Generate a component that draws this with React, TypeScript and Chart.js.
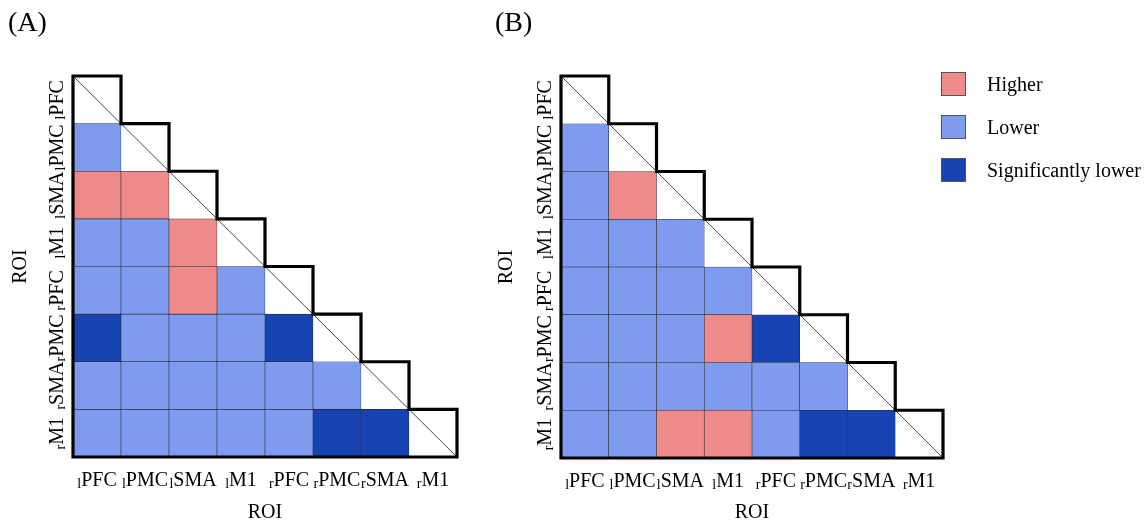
import React, { useEffect, useRef } from 'react';
import { Chart, registerables } from 'chart.js';

Chart.register(...registerables);

// ---------- data ----------
const roiSides = ['l', 'l', 'l', 'l', 'r', 'r', 'r', 'r'];
const roiNames = ['PFC', 'PMC', 'SMA', 'M1', 'PFC', 'PMC', 'SMA', 'M1'];
const roiLabels = roiSides.map((s, i) => s + roiNames[i]);

const categoryCodes = ['H', 'L', 'S'];
const categoryNames = ['Higher', 'Lower', 'Significantly lower'];
const categoryColors = ['#EE8A8A', '#7F9BF0', '#1744B2'];

// lower triangle: row r lists the cells of columns 0..r-1
const panelACells: string[][] = [
  [],
  ['L'],
  ['H', 'H'],
  ['L', 'L', 'H'],
  ['L', 'L', 'H', 'L'],
  ['S', 'L', 'L', 'L', 'S'],
  ['L', 'L', 'L', 'L', 'L', 'L'],
  ['L', 'L', 'L', 'L', 'L', 'S', 'S'],
];

const panelBCells: string[][] = [
  [],
  ['L'],
  ['L', 'H'],
  ['L', 'L', 'L'],
  ['L', 'L', 'L', 'L'],
  ['L', 'L', 'L', 'H', 'S'],
  ['L', 'L', 'L', 'L', 'L', 'L'],
  ['L', 'L', 'H', 'H', 'L', 'S', 'S'],
];

const axisTitle = 'ROI';

// ---------- styling ----------
const FONT = '"Liberation Serif", "Times New Roman", serif';

type Geo = {
  left: number;
  width: number;
  padRight: number;
  xTitlePadTop: number;
  yTitlePadTop: number;
  yTitlePadBottom: number;
  letterX: number;
};

const geoA: Geo = { left: 0, width: 490, padRight: 33, xTitlePadTop: 44, yTitlePadTop: 9, yTitlePadBottom: 40, letterX: 8 };
const geoB: Geo = { left: 490, width: 658, padRight: 205, xTitlePadTop: 43, yTitlePadTop: 5, yTitlePadBottom: 42, letterX: 5 };

function drawLabel(ctx: CanvasRenderingContext2D, sub: string, main: string, cx: number, baseY: number) {
  ctx.font = `14px ${FONT}`;
  const ws = ctx.measureText(sub).width;
  ctx.font = `20px ${FONT}`;
  const wm = ctx.measureText(main).width;
  const start = cx - (ws + wm) / 2;
  ctx.textAlign = 'left';
  ctx.textBaseline = 'alphabetic';
  ctx.font = `14px ${FONT}`;
  ctx.fillText(sub, start, baseY + 2);
  ctx.font = `20px ${FONT}`;
  ctx.fillText(main, start + ws, baseY);
}

function makeOverlay(letter: string, showLegend: boolean, letterX: number) {
  return {
    id: 'matrixOverlay',
    afterDatasetsDraw(chart: any) {
      const ctx: CanvasRenderingContext2D = chart.ctx;
      const xs = chart.scales.x;
      const ys = chart.scales.y;
      const n = roiLabels.length;
      const xE = (i: number) => xs.getPixelForValue(i - 0.5);
      const yE = (j: number) => ys.getPixelForValue(j);
      ctx.save();
      // diagonal
      ctx.beginPath();
      ctx.moveTo(xE(0), yE(0));
      ctx.lineTo(xE(n), yE(n));
      ctx.strokeStyle = '#333';
      ctx.lineWidth = 0.9;
      ctx.stroke();
      // staircase outline
      ctx.beginPath();
      ctx.moveTo(xE(0), yE(n));
      ctx.lineTo(xE(0), yE(0));
      for (let i = 0; i < n; i++) {
        ctx.lineTo(xE(i + 1), yE(i));
        ctx.lineTo(xE(i + 1), yE(i + 1));
      }
      ctx.closePath();
      ctx.strokeStyle = '#000';
      ctx.lineWidth = 3.2;
      ctx.lineJoin = 'miter';
      ctx.stroke();
      ctx.restore();
    },
    afterDraw(chart: any) {
      const ctx: CanvasRenderingContext2D = chart.ctx;
      const xs = chart.scales.x;
      const ys = chart.scales.y;
      const area = chart.chartArea;
      ctx.save();
      ctx.fillStyle = '#000';
      // x tick labels
      roiLabels.forEach((_, i) => {
        drawLabel(ctx, roiSides[i], roiNames[i], xs.getPixelForValue(i), area.bottom + 29);
      });
      // y tick labels (rotated)
      roiLabels.forEach((_, i) => {
        const cy = ys.getPixelForValue(i + 0.5);
        ctx.save();
        ctx.translate(area.left - 10, cy);
        ctx.rotate(-Math.PI / 2);
        drawLabel(ctx, roiSides[i], roiNames[i], 0, 0);
        ctx.restore();
      });
      // panel letter
      ctx.font = `28px ${FONT}`;
      ctx.textAlign = 'left';
      ctx.textBaseline = 'alphabetic';
      ctx.fillText(letter, letterX, 31);
      // legend
      if (showLegend) {
        const bx = area.right - 2;
        categoryNames.forEach((name, k) => {
          const by = 72 + k * 43;
          ctx.fillStyle = categoryColors[k];
          ctx.fillRect(bx, by, 25, 24);
          ctx.strokeStyle = '#555';
          ctx.lineWidth = 1;
          ctx.strokeRect(bx + 0.5, by + 0.5, 24, 23);
          ctx.fillStyle = '#000';
          ctx.font = `20px ${FONT}`;
          ctx.fillText(name, bx + 46, by + 19);
        });
      }
      ctx.restore();
    },
  };
}

function MatrixPanel({ cells, letter, geo, showLegend }: { cells: string[][]; letter: string; geo: Geo; showLegend: boolean }) {
  const ref = useRef<HTMLCanvasElement | null>(null);
  useEffect(() => {
    if (!ref.current) return;
    const datasets = categoryCodes.map((code, k) => {
      const data: any[] = [];
      cells.forEach((row, r) => {
        row.forEach((c, col) => {
          if (c === code) data.push({ x: roiLabels[col], y: [r, r + 1] });
        });
      });
      return {
        label: categoryNames[k],
        data,
        backgroundColor: categoryColors[k],
        borderColor: '#2a2a2a',
        borderWidth: 0.6,
        borderSkipped: false,
        grouped: false,
        barPercentage: 1,
        categoryPercentage: 1,
      };
    });
    const chart = new Chart(ref.current, {
      type: 'bar',
      data: { labels: roiLabels, datasets: datasets as any },
      options: {
        animation: false,
        responsive: false,
        maintainAspectRatio: false,
        layout: { padding: { top: 76, right: geo.padRight, left: 0, bottom: 0 } },
        plugins: { legend: { display: false }, tooltip: { enabled: false } },
        scales: {
          x: {
            type: 'category',
            offset: true,
            grid: { display: false, drawTicks: false },
            border: { display: false },
            ticks: { display: false },
            title: {
              display: true,
              text: axisTitle,
              color: '#000',
              font: { family: FONT, size: 20 },
              padding: { top: geo.xTitlePadTop, bottom: 0 },
            },
          },
          y: {
            type: 'linear',
            min: 0,
            max: roiLabels.length,
            reverse: true,
            grid: { display: false, drawTicks: false },
            border: { display: false },
            ticks: { display: false },
            title: {
              display: true,
              text: axisTitle,
              color: '#000',
              font: { family: FONT, size: 20 },
              padding: { top: geo.yTitlePadTop, bottom: geo.yTitlePadBottom },
            },
          },
        },
      },
      plugins: [makeOverlay(letter, showLegend, geo.letterX) as any],
    });
    return () => chart.destroy();
  }, [cells, letter, geo, showLegend]);
  return (
    <canvas
      ref={ref}
      width={geo.width}
      height={525}
      style={{ position: 'absolute', left: geo.left, top: 0, width: geo.width, height: 525 }}
    />
  );
}

export default function App() {
  return (
    <div style={{ position: 'absolute', left: 0, top: 0, width: 1148, height: 525, background: '#fff', overflow: 'hidden' }}>
      <MatrixPanel cells={panelACells} letter="(A)" geo={geoA} showLegend={false} />
      <MatrixPanel cells={panelBCells} letter="(B)" geo={geoB} showLegend={true} />
    </div>
  );
}
